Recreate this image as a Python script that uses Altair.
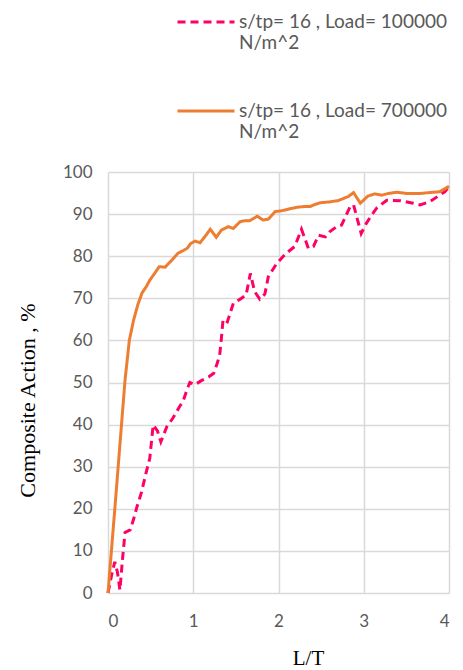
import altair as alt
import pandas as pd

# --- data ---
label_100 = "s/tp= 16 , Load= 100000|N/m^2"
label_700 = "s/tp= 16 , Load= 700000|N/m^2"

x_100 = [0, 0.05, 0.08, 0.11, 0.14, 0.17, 0.2, 0.26, 0.3, 0.34, 0.39, 0.44, 0.49, 0.53,
         0.58, 0.62, 0.69, 0.76, 0.84, 0.88, 0.93, 0.96, 1.02, 1.1, 1.18, 1.24, 1.28, 1.31,
         1.33, 1.35, 1.4, 1.47, 1.55, 1.62, 1.67, 1.72, 1.78, 1.84, 1.88, 1.98, 2.09, 2.19,
         2.27, 2.35, 2.41, 2.47, 2.55, 2.6, 2.68, 2.74, 2.84, 2.88, 2.97, 3.03, 3.1, 3.15,
         3.27, 3.43, 3.58, 3.66, 3.78, 3.89, 3.95, 4.0]
y_100 = [0, 5, 7.4, 5, 0.7, 8, 14.4, 15, 17.5, 20.5, 23.7, 28, 32, 39.9,
         38.5, 35.9, 39.5, 41.5, 44.3, 45.5, 48.5, 50, 49.5, 50.5, 51.3, 52.2, 54.5, 56.5,
         60.5, 65, 64.4, 68.8, 69.8, 70.8, 75.9, 71.6, 69.8, 71, 75.1, 78.3, 80.7, 82.3,
         86.4, 81.9, 82.3, 85, 84.6, 85.8, 87, 87.4, 91.8, 92.2, 85.4, 87.8, 90, 91.4,
         93.3, 93.2, 92.6, 92.2, 93, 94.5, 95.3, 96.5]

x_700 = [0, 0.08, 0.16, 0.2, 0.25, 0.3, 0.35, 0.4, 0.45, 0.49, 0.55, 0.6, 0.67, 0.75,
         0.82, 0.88, 0.93, 0.97, 1.02, 1.08, 1.15, 1.2, 1.27, 1.33, 1.41, 1.47, 1.55, 1.6,
         1.66, 1.75, 1.82, 1.88, 1.96, 2.04, 2.12, 2.21, 2.3, 2.37, 2.43, 2.49, 2.6, 2.7,
         2.76, 2.82, 2.88, 2.96, 3.05, 3.13, 3.21, 3.29, 3.39, 3.5, 3.66, 3.82, 3.89, 3.95, 4.0]
y_700 = [0, 20, 40.4, 50.6, 60, 64.8, 68.5, 71.3, 72.8, 74.3, 76, 77.5, 77.4, 79.1,
         80.7, 81.3, 81.9, 83.0, 83.6, 83.2, 85, 86.4, 84.5, 86.2, 87, 86.6, 88.2, 88.4,
         88.4, 89.5, 88.6, 88.8, 90.6, 90.8, 91.2, 91.6, 91.8, 91.8, 92.3, 92.7, 92.9, 93.2,
         93.7, 94.2, 95.1, 92.6, 94.3, 94.8, 94.5, 94.9, 95.2, 94.9, 94.9, 95.2, 95.3, 96.0, 96.6]

series = [label_100, label_700]
colors = ["#FF0066", "#ED7D31"]
dashes = [[8, 5], [1, 0]]

df = pd.concat([
    pd.DataFrame({"x": x_100, "y": y_100, "s": label_100, "o": range(len(x_100))}),
    pd.DataFrame({"x": x_700, "y": y_700, "s": label_700, "o": range(len(x_700))}),
])

gray = "#595959"
grid = "#D9D9D9"

chart = alt.Chart(df).mark_line(strokeWidth=3).encode(
    x=alt.X("x:Q", scale=alt.Scale(domain=[0, 4], nice=False),
            axis=alt.Axis(values=[0, 1, 2, 3, 4], title="L/T", titleFont="Liberation Serif",
                          titleFontSize=21, titleFontWeight="normal", titleColor="#000000",
                          titleX=200, titleY=65, titleAnchor="middle", titleBaseline="middle")),
    y=alt.Y("y:Q", scale=alt.Scale(domain=[0, 100], nice=False),
            axis=alt.Axis(values=list(range(0, 101, 10)), title="Composite Action , %",
                          titleFont="Liberation Serif", titleFontSize=22,
                          titleFontWeight="normal", titleColor="#000000",
                          titleX=-81, titleY=228, titleAnchor="middle", titleBaseline="middle")),
    color=alt.Color("s:N", scale=alt.Scale(domain=series, range=colors),
                    legend=alt.Legend(title=None, orient="none", legendX=68, legendY=-180,
                                      symbolType="stroke", symbolSize=3249,
                                      symbolStrokeWidth=3, rowPadding=28,
                                      labelExpr="split(datum.label, '|')",
                                      labelBaseline="middle", labelOffset=3,
                                      labelFont="Lato", labelFontSize=19,
                                      labelColor=gray, labelLimit=400)),
    strokeDash=alt.StrokeDash("s:N", scale=alt.Scale(domain=series, range=dashes)),
    order="o:Q",
).properties(
    width=341, height=421,
    autosize=alt.AutoSizeParams(type="none"),
    padding={"left": 100, "top": 164, "right": 6, "bottom": 77},
).configure_axis(
    grid=True, gridColor=grid, gridWidth=1.5, domain=False, ticks=False,
    labelFont="Lato", labelFontSize=17, labelColor=gray,
).configure_axisX(labelPadding=20).configure_axisY(labelPadding=16).configure_view(stroke=None)

chart.save("out.html", embed_options={"renderer": "svg", "actions": False})
